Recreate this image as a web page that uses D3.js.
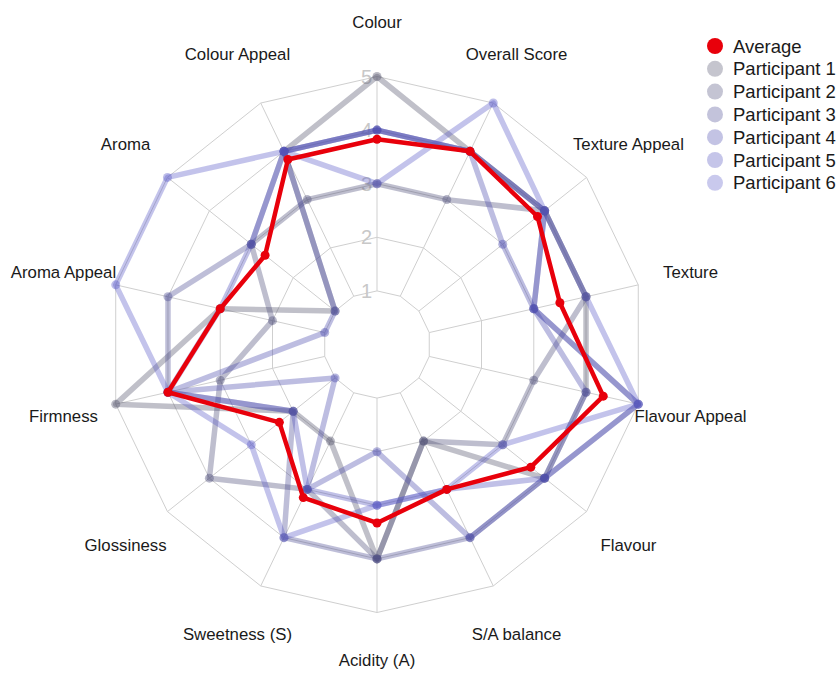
<!DOCTYPE html>
<html>
<head>
<meta charset="utf-8">
<script src="https://cdn.jsdelivr.net/npm/d3@7"></script>
<style>
  html, body { margin: 0; padding: 0; background: #ffffff; }
  svg { display: block; font-family: "Liberation Sans", Arial, sans-serif; }
</style>
</head>
<body>
<svg id="chart" width="840" height="673"></svg>
<script>
// ---------------- data ----------------
const categories = ["Colour", "Overall Score", "Texture Appeal", "Texture", "Flavour Appeal",
  "Flavour", "S/A balance", "Acidity (A)", "Sweetness (S)", "Glossiness", "Firmness",
  "Aroma Appeal", "Aroma", "Colour Appeal"];
const levelTicks = [1, 2, 3, 4, 5];
const seriesNames = ["Participant 1", "Participant 2", "Participant 3", "Participant 4", "Participant 5", "Participant 6"];
const participant1 = [5, 4, 4, 4, 4, 4, 2, 4, 2, 2, 5, 3, 1, 4];
const participant2 = [3, 3, 4, 4, 3, 3, 2, 4, 3, 4, 3, 2, 3, 3];
const participant3 = [4, 4, 4, 3, 5, 4, 4, 4, 4, 2, 4, 4, 3, 4];
const participant4 = [4, 4, 3, 3, 4, 4, 4, 2, 3, 1, 4, 1, 1, 4];
const participant5 = [4, 4, 4, 3, 5, 4, 3, 3, 3, 2, 4, 3, 3, 4];
const participant6 = [3, 5, 4, 4, 5, 3, 3, 3, 4, 3, 4, 5, 5, 4];
const average = [3.83, 4, 3.83, 3.5, 4.33, 3.67, 3, 3.33, 3.17, 2.33, 4, 3, 2.67, 3.83];
const participantColors = ["#50506a", "#4c4c78", "#4a4a92", "#4848ac", "#5050bc", "#5a5ac8"];
const averageColor = "#e8000b";

// ---------------- layout ----------------
const svg = d3.select("#chart");
const cx = 377, cy = 344.5;
const rScale = d3.scaleLinear().domain([0, 5]).range([0, 268]);
const aScale = d3.scaleLinear().domain([0, categories.length]).range([0, 2 * Math.PI]);
const g = svg.append("g").attr("transform", `translate(${cx},${cy})`);

const pt = (i, v) => [rScale(v) * Math.sin(aScale(i)), -rScale(v) * Math.cos(aScale(i))];

// grid polygons
const gridLine = d3.lineRadial().curve(d3.curveLinearClosed)
  .angle((d, i) => aScale(i)).radius(d => rScale(d));
g.selectAll(".grid").data(levelTicks).join("path")
  .attr("class", "grid")
  .attr("d", lv => gridLine(categories.map(() => lv)))
  .attr("fill", "none").attr("stroke", "#cfcfcf").attr("stroke-width", 1);

// spokes
g.selectAll(".spoke").data(categories).join("line")
  .attr("class", "spoke")
  .attr("x1", (d, i) => pt(i, levelTicks[0])[0]).attr("y1", (d, i) => pt(i, levelTicks[0])[1])
  .attr("x2", (d, i) => pt(i, levelTicks[levelTicks.length - 1])[0]).attr("y2", (d, i) => pt(i, levelTicks[levelTicks.length - 1])[1])
  .attr("stroke", "#cfcfcf").attr("stroke-width", 1);

// level labels
g.selectAll(".lvl").data(levelTicks).join("text")
  .attr("class", "lvl")
  .attr("x", -5).attr("y", d => -rScale(d))
  .attr("text-anchor", "end").attr("dominant-baseline", "central")
  .attr("font-size", 20).attr("fill", "#c8c8c8")
  .text(d => d);

// category labels
g.selectAll(".cat").data(categories).join("text")
  .attr("class", "cat")
  .attr("x", (d, i) => pt(i, 6)[0])
  .attr("y", (d, i) => Math.min(pt(i, 6)[1], 673 - cy - 13))
  .attr("text-anchor", "middle").attr("dominant-baseline", "central")
  .attr("font-size", 16.8).attr("fill", "#1a1a1a")
  .text(d => d);

// series
const participants = [participant1, participant2, participant3, participant4, participant5, participant6];
const seriesLine = d3.lineRadial().curve(d3.curveLinearClosed)
  .angle((d, i) => aScale(i)).radius(d => rScale(d));

participants.forEach((vals, s) => {
  const sg = g.append("g").attr("opacity", 0.36);
  sg.append("path").attr("d", seriesLine(vals))
    .attr("fill", "none").attr("stroke", participantColors[s])
    .attr("stroke-width", 5.5).attr("stroke-linejoin", "round");
});
participants.forEach((vals, s) => {
  g.append("g").selectAll("circle").data(vals).join("circle")
    .attr("cx", (d, i) => pt(i, d)[0]).attr("cy", (d, i) => pt(i, d)[1])
    .attr("r", 4.5).attr("fill", participantColors[s]).attr("opacity", 0.4);
});

// average
g.append("path").attr("d", seriesLine(average))
  .attr("fill", "none").attr("stroke", averageColor)
  .attr("stroke-width", 4.5).attr("stroke-linejoin", "round");
g.append("g").selectAll("circle").data(average).join("circle")
  .attr("cx", (d, i) => pt(i, d)[0]).attr("cy", (d, i) => pt(i, d)[1])
  .attr("r", 4.5).attr("fill", averageColor);

// legend
const legendNames = ["Average"].concat(seriesNames);
const legendColors = [averageColor].concat(participantColors);
const lg = svg.append("g").attr("transform", "translate(715,46)");
const li = lg.selectAll("g").data(legendNames).join("g")
  .attr("transform", (d, i) => `translate(0,${i * 22.8})`);
li.append("circle").attr("r", 8)
  .attr("fill", (d, i) => legendColors[i])
  .attr("opacity", (d, i) => i === 0 ? 1 : 0.33);
li.append("text").attr("x", 18).attr("y", 0)
  .attr("dominant-baseline", "central").attr("font-size", 18.5).attr("fill", "#1a1a1a")
  .text(d => d);
</script>
</body>
</html>
